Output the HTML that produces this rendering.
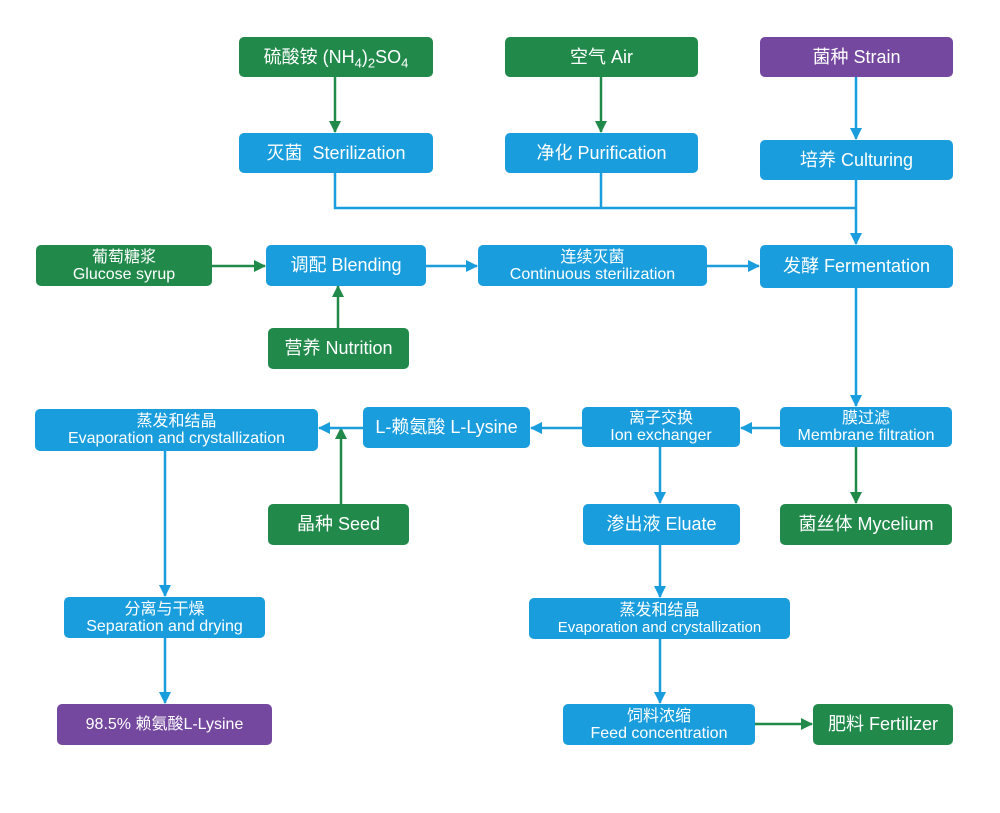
<!DOCTYPE html>
<html><head><meta charset="utf-8"><style>
body{margin:0;background:#fff;width:1000px;height:813px;position:relative;overflow:hidden;font-family:"Liberation Sans","Noto Sans CJK SC",sans-serif;}
.b{position:absolute;border-radius:5px;color:#fff;display:flex;flex-direction:column;align-items:center;justify-content:center;text-align:center;line-height:17px;white-space:nowrap;}
.bl{background:#1a9ddd}.gr{background:#218a4b}.pu{background:#74489f}
.s{font-size:18px}.d{font-size:16px}
svg{position:absolute;left:0;top:0}
sub{font-size:13px;vertical-align:sub;line-height:0}
</style></head><body>
<svg width="1000" height="813">
<defs>
<marker id="ab" markerWidth="12" markerHeight="12" refX="11" refY="6" orient="auto" markerUnits="userSpaceOnUse" viewBox="0 0 12 12"><path d="M0,0L12,6L0,12z" fill="#1a9ddd"/></marker>
<marker id="ag" markerWidth="12" markerHeight="12" refX="11" refY="6" orient="auto" markerUnits="userSpaceOnUse" viewBox="0 0 12 12"><path d="M0,0L12,6L0,12z" fill="#218a4b"/></marker>
</defs>
<g stroke-width="2.5" fill="none">
<g stroke="#218a4b" marker-end="url(#ag)">
<path d="M335 77V132"/><path d="M601 77V132"/>
<path d="M212 266H265"/><path d="M338 328V286"/>
<path d="M341 504V428"/><path d="M856 447V503"/><path d="M755 724H812"/>
</g>
<g stroke="#1a9ddd">
<path d="M335 173V208H856"/><path d="M601 173V208"/>
</g>
<g stroke="#1a9ddd" marker-end="url(#ab)">
<path d="M856 77V139"/><path d="M856 180V244"/>
<path d="M426 266H477"/><path d="M707 266H759"/>
<path d="M856 288V406"/><path d="M780 428H741"/><path d="M582 428H531"/><path d="M363 428H319"/>
<path d="M660 447V503"/><path d="M660 544V597"/><path d="M660 638V703"/>
<path d="M165 450V596"/><path d="M165 638V703"/>
</g>
</g>
</svg>
<div class="b gr s" style="left:239px;top:37px;width:194px;height:40px"><span>硫酸铵 (NH<sub>4</sub>)<sub>2</sub>SO<sub>4</sub></span></div>
<div class="b gr s" style="left:505px;top:37px;width:193px;height:40px">空气 Air</div>
<div class="b pu s" style="left:760px;top:37px;width:193px;height:40px">菌种 Strain</div>
<div class="b bl s" style="left:239px;top:133px;width:194px;height:40px">灭菌&nbsp; Sterilization</div>
<div class="b bl s" style="left:505px;top:133px;width:193px;height:40px">净化 Purification</div>
<div class="b bl s" style="left:760px;top:140px;width:193px;height:40px">培养 Culturing</div>
<div class="b gr d" style="left:36px;top:245px;width:176px;height:41px"><span>葡萄糖浆</span><span>Glucose syrup</span></div>
<div class="b bl s" style="left:266px;top:245px;width:160px;height:41px">调配 Blending</div>
<div class="b bl d" style="left:478px;top:245px;width:229px;height:41px"><span>连续灭菌</span><span>Continuous sterilization</span></div>
<div class="b bl s" style="left:760px;top:245px;width:193px;height:43px">发酵 Fermentation</div>
<div class="b gr s" style="left:268px;top:328px;width:141px;height:41px">营养 Nutrition</div>
<div class="b bl d" style="left:35px;top:409px;width:283px;height:42px"><span>蒸发和结晶</span><span>Evaporation and crystallization</span></div>
<div class="b bl s" style="left:363px;top:407px;width:167px;height:41px">L-赖氨酸 L-Lysine</div>
<div class="b bl d" style="left:582px;top:407px;width:158px;height:40px"><span>离子交换</span><span>Ion exchanger</span></div>
<div class="b bl d" style="left:780px;top:407px;width:172px;height:40px"><span>膜过滤</span><span>Membrane filtration</span></div>
<div class="b gr s" style="left:268px;top:504px;width:141px;height:41px">晶种 Seed</div>
<div class="b bl s" style="left:583px;top:504px;width:157px;height:41px">渗出液 Eluate</div>
<div class="b gr s" style="left:780px;top:504px;width:172px;height:41px">菌丝体 Mycelium</div>
<div class="b bl d" style="left:64px;top:597px;width:201px;height:41px"><span>分离与干燥</span><span>Separation and drying</span></div>
<div class="b bl d" style="left:529px;top:598px;width:261px;height:41px"><span>蒸发和结晶</span><span style="font-size:15px">Evaporation and crystallization</span></div>
<div class="b pu d" style="left:57px;top:704px;width:215px;height:41px">98.5% 赖氨酸L-Lysine</div>
<div class="b bl d" style="left:563px;top:704px;width:192px;height:41px"><span>饲料浓缩</span><span>Feed concentration</span></div>
<div class="b gr s" style="left:813px;top:704px;width:140px;height:41px">肥料 Fertilizer</div>
</body></html>
